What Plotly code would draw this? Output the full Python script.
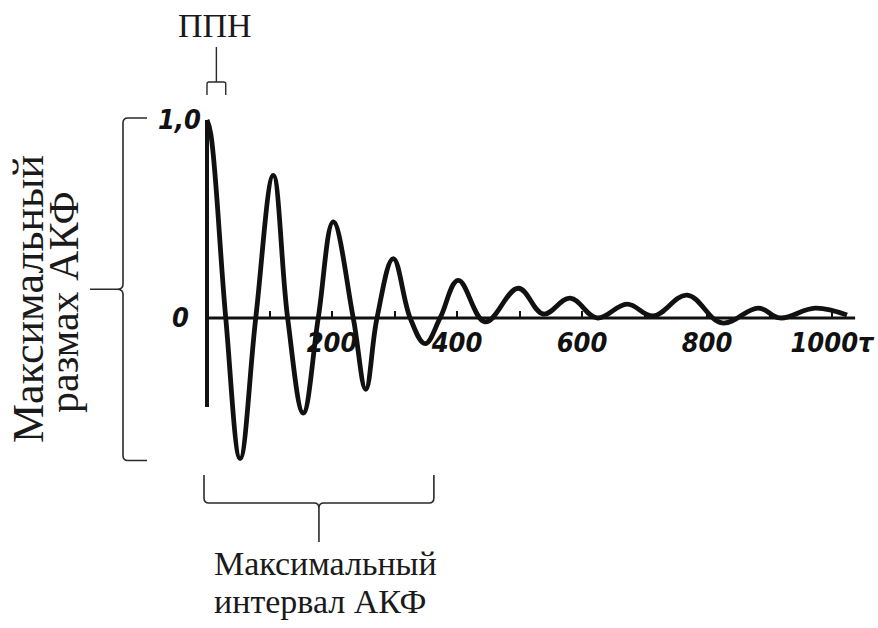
import plotly.graph_objects as go

# Autocorrelation function: lag τ and normalised ACF value
tau = [0, 6, 30, 53, 78, 106, 129, 154, 178, 202, 234, 254, 272, 298, 325, 349, 373, 402,
       445, 498, 538, 581, 624, 672, 714, 768, 824, 882, 917, 973, 1024]
acf = [1.0, 0.93, 0.0, -0.71, 0.0, 0.72, 0.0, -0.48, 0.0, 0.485, 0.0, -0.36, 0.0, 0.30, 0.0,
       -0.13, 0.0, 0.19, -0.02, 0.15, 0.02, 0.10, 0.0, 0.07, 0.01, 0.115, -0.025, 0.05, 0.0,
       0.05, 0.015]

x_tick_vals = [200, 400, 600, 800, 1000]
x_tick_text = ["200", "400", "600", "800", "1000τ"]
x_minor_vals = [100, 300, 500, 700, 900]
y_tick_vals = [0, 1.0]
y_tick_text = ["0\u2002", "1,0"]

axis_end = 1037      # right end of the τ axis line
y_axis_low = -0.45   # lower end of the ordinate line
interval_end = 363   # right end of the "maximum interval" brace

label_top = "ППН"
label_left = ["Максимальный", "размах АКФ"]
label_bottom = ["Максимальный", "интервал АКФ"]

# ---- page geometry -------------------------------------------------------
W, H = 878, 628
X_RANGE = [-331.2, 1073.6]
Y_RANGE = [-1.566, 1.606]


def xd(px):
    return X_RANGE[0] + px / W * (X_RANGE[1] - X_RANGE[0])


def yd(py):
    return Y_RANGE[1] - py / H * (Y_RANGE[1] - Y_RANGE[0])


def xp(v):
    return (v - X_RANGE[0]) / (X_RANGE[1] - X_RANGE[0]) * W


def yp(v):
    return (Y_RANGE[1] - v) / (Y_RANGE[1] - Y_RANGE[0]) * H


def path(cmds):
    """Build an SVG path in data units from (command, [(px, py), ...]) in pixels."""
    out = []
    for c, pts in cmds:
        out.append(c + " ".join(f"{xd(a):.3f},{yd(b):.4f}" for a, b in pts))
    return " ".join(out)


INK = "#111111"
BRACE = "#2a2a2a"
SERIF = "Liberation Serif, Times New Roman, serif"
TICKFONT = dict(family="Liberation Sans Narrow, DejaVu Sans Condensed, sans-serif",
                size=27, color=INK, weight="bold", style="italic")

fig = go.Figure()
fig.add_trace(go.Scatter(
    x=tau, y=acf, mode="lines",
    line=dict(color=INK, width=4.8, shape="spline", smoothing=1.1),
    hoverinfo="skip", showlegend=False,
))

shapes = []
# axis lines
shapes.append(dict(type="line", xref="x", yref="y", x0=0, x1=axis_end, y0=0, y1=0,
                   line=dict(color=INK, width=3), layer="below"))
shapes.append(dict(type="line", xref="x", yref="y", x0=0, x1=0, y0=y_axis_low, y1=max(acf),
                   line=dict(color=INK, width=4), layer="below"))

# brace for the full ACF swing (max .. min)
top, bot = yp(max(acf)) - 2, yp(min(acf)) + 2
mid = (top + bot) / 2
sx = 123
shapes.append(dict(type="path", xref="x", yref="y", line=dict(color=BRACE, width=1.6),
                   path=path([("M", [(147, top)]), ("L", [(128, top)]), ("Q", [(sx, top), (sx, top + 5)]),
                              ("L", [(sx, mid - 5)]), ("Q", [(sx, mid), (sx - 6, mid)]), ("L", [(90, mid)]),
                              ("M", [(sx - 6, mid)]), ("Q", [(sx, mid), (sx, mid + 5)]),
                              ("L", [(sx, bot - 5)]), ("Q", [(sx, bot), (128, bot)]), ("L", [(147, bot)])])))

# brace for the maximum interval (τ = 0 .. interval_end)
bl, br = xp(0) - 3, xp(interval_end)
bm = (bl + br) / 2
shapes.append(dict(type="path", xref="x", yref="y", line=dict(color=BRACE, width=1.6),
                   path=path([("M", [(bl, 475)]), ("L", [(bl, 498)]), ("Q", [(bl, 503), (bl + 5, 503)]),
                              ("L", [(bm - 5, 503)]), ("Q", [(bm, 503), (bm, 508)]), ("L", [(bm, 542)]),
                              ("M", [(bm, 508)]), ("Q", [(bm, 503), (bm + 5, 503)]),
                              ("L", [(br - 5, 503)]), ("Q", [(br, 503), (br, 498)]), ("L", [(br, 475)])])))

# small bracket over the first lobe (τ = 0 .. first zero crossing)
first_zero = next(t for t, v in zip(tau, acf) if v <= 0)
pl, pr = xp(0), xp(first_zero)
pm = (pl + pr) / 2
shapes.append(dict(type="path", xref="x", yref="y", line=dict(color=BRACE, width=1.4),
                   path=path([("M", [(pl, 95)]), ("L", [(pl, 84)]), ("Q", [(pl, 82), (pl + 2, 82)]),
                              ("L", [(pr - 2, 82)]), ("Q", [(pr, 82), (pr, 84)]), ("L", [(pr, 95)]),
                              ("M", [(pm, 82)]), ("L", [(pm, 47)])])))

annotations = [
    dict(text=label_top, x=215 / W, y=1 - 25.5 / H, xref="paper", yref="paper",
         showarrow=False, xanchor="center", yanchor="middle",
         font=dict(family=SERIF, size=34, color="#1a1a1a")),
    dict(text=label_left[0], x=28 / W, y=1 - 299 / H, xref="paper", yref="paper",
         showarrow=False, textangle=-90, xanchor="center", yanchor="middle",
         font=dict(family=SERIF, size=44, color="#1a1a1a")),
    dict(text=label_left[1], x=64 / W, y=1 - 302 / H, xref="paper", yref="paper",
         showarrow=False, textangle=-90, xanchor="center", yanchor="middle",
         font=dict(family=SERIF, size=42, color="#1a1a1a")),
    dict(text=label_bottom[0], x=325 / W, y=1 - 563 / H, xref="paper", yref="paper",
         showarrow=False, xanchor="center", yanchor="middle",
         font=dict(family=SERIF, size=34, color="#1a1a1a")),
    dict(text=label_bottom[1], x=320 / W, y=1 - 601 / H, xref="paper", yref="paper",
         showarrow=False, xanchor="center", yanchor="middle",
         font=dict(family=SERIF, size=34, color="#1a1a1a")),
]

fig.update_layout(
    template="none",
    width=W, height=H,
    margin=dict(l=0, r=0, t=0, b=0, pad=0),
    paper_bgcolor="white", plot_bgcolor="white",
    showlegend=False,
    shapes=shapes,
    annotations=annotations,
    xaxis=dict(
        range=X_RANGE, anchor="free",
        position=(0 - Y_RANGE[0]) / (Y_RANGE[1] - Y_RANGE[0]),
        showgrid=False, zeroline=False, showline=False, automargin=False,
        tickmode="array", tickvals=x_tick_vals, ticktext=x_tick_text,
        ticks="inside", ticklen=7, tickwidth=2, tickcolor=INK,
        minor=dict(tickmode="array", tickvals=x_minor_vals, ticks="inside",
                   ticklen=7, tickwidth=2, tickcolor=INK, showgrid=False),
        tickfont=TICKFONT, ticklabelstandoff=6, ticklabeloverflow="allow",
    ),
    yaxis=dict(
        range=Y_RANGE, anchor="free",
        position=(0 - X_RANGE[0]) / (X_RANGE[1] - X_RANGE[0]),
        showgrid=False, zeroline=False, showline=False, automargin=False,
        tickmode="array", tickvals=y_tick_vals, ticktext=y_tick_text,
        ticks="", tickfont=TICKFONT, ticklabelstandoff=6, ticklabeloverflow="allow",
    ),
)

fig.write_html("out.html")
